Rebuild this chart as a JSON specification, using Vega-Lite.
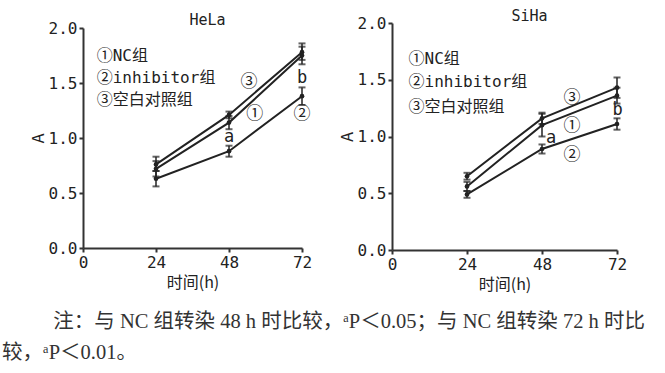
{
  "$schema": "https://vega.github.io/schema/vega-lite/v6.json",
  "background": "white",
  "padding": {"left": 2, "top": 9, "right": 5, "bottom": 5},
  "config": {
    "font": "DejaVu Sans Mono",
    "view": {"stroke": null},
    "concat": {"spacing": 27},
    "axis": {
      "domainColor": "#333", "domainWidth": 2, "tickColor": "#333", "tickWidth": 2, "tickSize": 4, "labelPadding": 2,
      "grid": false, "labelFont": "DejaVu Sans Mono", "labelFontSize": 16, "labelColor": "#222",
      "titleFont": "Noto Sans CJK SC", "titleFontWeight": "normal", "titleFontSize": 16, "titleColor": "#222"
    }
  },
  "datasets": {
    "hela": [
      {"group": "NC", "t": 24, "A": 0.72, "lo": 0.65, "hi": 0.79},
      {"group": "NC", "t": 48, "A": 1.14, "lo": 1.08, "hi": 1.2},
      {"group": "NC", "t": 72, "A": 1.75, "lo": 1.67, "hi": 1.83},
      {"group": "inhibitor", "t": 24, "A": 0.63, "lo": 0.56, "hi": 0.7},
      {"group": "inhibitor", "t": 48, "A": 0.88, "lo": 0.83, "hi": 0.93},
      {"group": "inhibitor", "t": 72, "A": 1.38, "lo": 1.3, "hi": 1.46},
      {"group": "control", "t": 24, "A": 0.76, "lo": 0.7, "hi": 0.83},
      {"group": "control", "t": 48, "A": 1.21, "lo": 1.18, "hi": 1.24},
      {"group": "control", "t": 72, "A": 1.78, "lo": 1.71, "hi": 1.86}
    ],
    "siha": [
      {"group": "NC", "t": 24, "A": 0.56, "lo": 0.52, "hi": 0.6},
      {"group": "NC", "t": 48, "A": 1.1, "lo": 1.0, "hi": 1.2},
      {"group": "NC", "t": 72, "A": 1.36, "lo": 1.29, "hi": 1.43},
      {"group": "inhibitor", "t": 24, "A": 0.49, "lo": 0.46, "hi": 0.52},
      {"group": "inhibitor", "t": 48, "A": 0.89, "lo": 0.85, "hi": 0.93},
      {"group": "inhibitor", "t": 72, "A": 1.11, "lo": 1.06, "hi": 1.16},
      {"group": "control", "t": 24, "A": 0.65, "lo": 0.62, "hi": 0.68},
      {"group": "control", "t": 48, "A": 1.16, "lo": 1.11, "hi": 1.21},
      {"group": "control", "t": 72, "A": 1.43, "lo": 1.34, "hi": 1.52}
    ],
    "hela_legend": [
      {"x": 4.5, "y": 1.75, "label": "①NC组"},
      {"x": 4.5, "y": 1.55, "label": "②inhibitor组"},
      {"x": 4.5, "y": 1.35, "label": "③空白对照组"}
    ],
    "hela_ann": [
      {"x": 54.6, "y": 1.51, "label": "③"},
      {"x": 56.5, "y": 1.22, "label": "①"},
      {"x": 72, "y": 1.22, "label": "②"},
      {"x": 48, "y": 1.01, "label": "a"},
      {"x": 72, "y": 1.55, "label": "b"}
    ],
    "siha_legend": [
      {"x": 5.3, "y": 1.68, "label": "①NC组"},
      {"x": 5.3, "y": 1.48, "label": "②inhibitor组"},
      {"x": 5.3, "y": 1.26, "label": "③空白对照组"}
    ],
    "siha_ann": [
      {"x": 57.6, "y": 1.34, "label": "③"},
      {"x": 57.6, "y": 1.09, "label": "①"},
      {"x": 57.6, "y": 0.84, "label": "②"},
      {"x": 50.9, "y": 0.99, "label": "a"},
      {"x": 72.2, "y": 1.23, "label": "b"}
    ]
  },
  "title": {
    "text": ["\u200b\u3000\u3000\u2002注：与 NC 组转染 48 h 时比较，ᵃP＜0.05；与 NC 组转染 72 h 时比", "较，ᵃP＜0.01。"],
    "orient": "bottom", "anchor": "start", "frame": "bounds",
    "fontSize": 20.5, "font": "Liberation Serif, Noto Sans CJK SC", "fontWeight": "normal",
    "lineHeight": 31, "offset": 20, "dx": -28, "color": "#333"
  },
  "hconcat": [
    {
      "width": 219, "height": 225,
      "title": {"text": "HeLa", "fontSize": 15, "font": "DejaVu Sans Mono", "fontWeight": "normal", "dx": 15, "offset": -15.4, "baseline": "middle", "color": "#222"},
      "data": {"name": "hela"},
      "layer": [
        {
          "mark": {"type": "line", "color": "#222", "strokeWidth": 2},
          "encoding": {
            "x": {"field": "t", "type": "quantitative", "scale": {"domain": [0, 72]}, "axis": {"values": [0, 24, 48, 72], "labelFlush": false, "title": "时间(h)"}},
            "y": {"field": "A", "type": "quantitative", "scale": {"domain": [0, 2], "range": [225, 5]}, "axis": {"values": [0, 0.5, 1, 1.5, 2], "format": ".1f", "title": "A", "titlePadding": 2}},
            "detail": {"field": "group"}
          }
        },
        {
          "mark": {"type": "errorbar", "color": "#222", "thickness": 1.5, "ticks": {"size": 7, "thickness": 2}},
          "encoding": {
            "x": {"field": "t", "type": "quantitative", "scale": {"domain": [0, 72]}, "axis": {"values": [0, 24, 48, 72], "labelFlush": false, "title": "时间(h)"}},
            "y": {"field": "lo", "type": "quantitative", "scale": {"domain": [0, 2], "range": [225, 5]}, "axis": {"values": [0, 0.5, 1, 1.5, 2], "format": ".1f", "title": "A", "titlePadding": 2}},
            "y2": {"field": "hi"},
            "detail": {"field": "group"}
          }
        },
        {
          "mark": {"type": "point", "filled": true, "color": "#222", "size": 22, "opacity": 1},
          "encoding": {
            "x": {"field": "t", "type": "quantitative", "scale": {"domain": [0, 72]}, "axis": {"values": [0, 24, 48, 72], "labelFlush": false, "title": "时间(h)"}},
            "y": {"field": "A", "type": "quantitative", "scale": {"domain": [0, 2], "range": [225, 5]}, "axis": {"values": [0, 0.5, 1, 1.5, 2], "format": ".1f", "title": "A", "titlePadding": 2}}
          }
        },
        {
          "data": {"name": "hela_legend"},
          "mark": {"type": "text", "align": "left", "baseline": "middle", "fontSize": 16, "font": "DejaVu Sans Mono, Noto Sans CJK SC", "color": "#222"},
          "encoding": {
            "x": {"field": "x", "type": "quantitative", "scale": {"domain": [0, 72]}, "axis": {"values": [0, 24, 48, 72], "labelFlush": false, "title": "时间(h)"}},
            "y": {"field": "y", "type": "quantitative", "scale": {"domain": [0, 2], "range": [225, 5]}, "axis": {"values": [0, 0.5, 1, 1.5, 2], "format": ".1f", "title": "A", "titlePadding": 2}},
            "text": {"field": "label"}
          }
        },
        {
          "data": {"name": "hela_ann"},
          "mark": {"type": "text", "align": "center", "baseline": "middle", "fontSize": 17, "font": "DejaVu Sans Mono, Noto Sans CJK SC", "color": "#222"},
          "encoding": {
            "x": {"field": "x", "type": "quantitative", "scale": {"domain": [0, 72]}, "axis": {"values": [0, 24, 48, 72], "labelFlush": false, "title": "时间(h)"}},
            "y": {"field": "y", "type": "quantitative", "scale": {"domain": [0, 2], "range": [225, 5]}, "axis": {"values": [0, 0.5, 1, 1.5, 2], "format": ".1f", "title": "A", "titlePadding": 2}},
            "text": {"field": "label"}
          }
        }
      ]
    },
    {
      "width": 225, "height": 227,
      "title": {"text": "SiHa", "fontSize": 15, "font": "DejaVu Sans Mono", "fontWeight": "normal", "dx": 25, "offset": -16.4, "baseline": "middle", "color": "#222"},
      "data": {"name": "siha"},
      "layer": [
        {
          "mark": {"type": "line", "color": "#222", "strokeWidth": 2},
          "encoding": {
            "x": {"field": "t", "type": "quantitative", "scale": {"domain": [0, 72]}, "axis": {"values": [0, 24, 48, 72], "labelFlush": false, "title": "时间(h)"}},
            "y": {"field": "A", "type": "quantitative", "scale": {"domain": [0, 2]}, "axis": {"values": [0, 0.5, 1, 1.5, 2], "format": ".1f", "title": "A", "titlePadding": 2}},
            "detail": {"field": "group"}
          }
        },
        {
          "mark": {"type": "errorbar", "color": "#222", "thickness": 1.5, "ticks": {"size": 7, "thickness": 2}},
          "encoding": {
            "x": {"field": "t", "type": "quantitative", "scale": {"domain": [0, 72]}, "axis": {"values": [0, 24, 48, 72], "labelFlush": false, "title": "时间(h)"}},
            "y": {"field": "lo", "type": "quantitative", "scale": {"domain": [0, 2]}, "axis": {"values": [0, 0.5, 1, 1.5, 2], "format": ".1f", "title": "A", "titlePadding": 2}},
            "y2": {"field": "hi"},
            "detail": {"field": "group"}
          }
        },
        {
          "mark": {"type": "point", "filled": true, "color": "#222", "size": 22, "opacity": 1},
          "encoding": {
            "x": {"field": "t", "type": "quantitative", "scale": {"domain": [0, 72]}, "axis": {"values": [0, 24, 48, 72], "labelFlush": false, "title": "时间(h)"}},
            "y": {"field": "A", "type": "quantitative", "scale": {"domain": [0, 2]}, "axis": {"values": [0, 0.5, 1, 1.5, 2], "format": ".1f", "title": "A", "titlePadding": 2}}
          }
        },
        {
          "data": {"name": "siha_legend"},
          "mark": {"type": "text", "align": "left", "baseline": "middle", "fontSize": 16, "font": "DejaVu Sans Mono, Noto Sans CJK SC", "color": "#222"},
          "encoding": {
            "x": {"field": "x", "type": "quantitative", "scale": {"domain": [0, 72]}, "axis": {"values": [0, 24, 48, 72], "labelFlush": false, "title": "时间(h)"}},
            "y": {"field": "y", "type": "quantitative", "scale": {"domain": [0, 2]}, "axis": {"values": [0, 0.5, 1, 1.5, 2], "format": ".1f", "title": "A", "titlePadding": 2}},
            "text": {"field": "label"}
          }
        },
        {
          "data": {"name": "siha_ann"},
          "mark": {"type": "text", "align": "center", "baseline": "middle", "fontSize": 17, "font": "DejaVu Sans Mono, Noto Sans CJK SC", "color": "#222"},
          "encoding": {
            "x": {"field": "x", "type": "quantitative", "scale": {"domain": [0, 72]}, "axis": {"values": [0, 24, 48, 72], "labelFlush": false, "title": "时间(h)"}},
            "y": {"field": "y", "type": "quantitative", "scale": {"domain": [0, 2]}, "axis": {"values": [0, 0.5, 1, 1.5, 2], "format": ".1f", "title": "A", "titlePadding": 2}},
            "text": {"field": "label"}
          }
        }
      ]
    }
  ]
}
